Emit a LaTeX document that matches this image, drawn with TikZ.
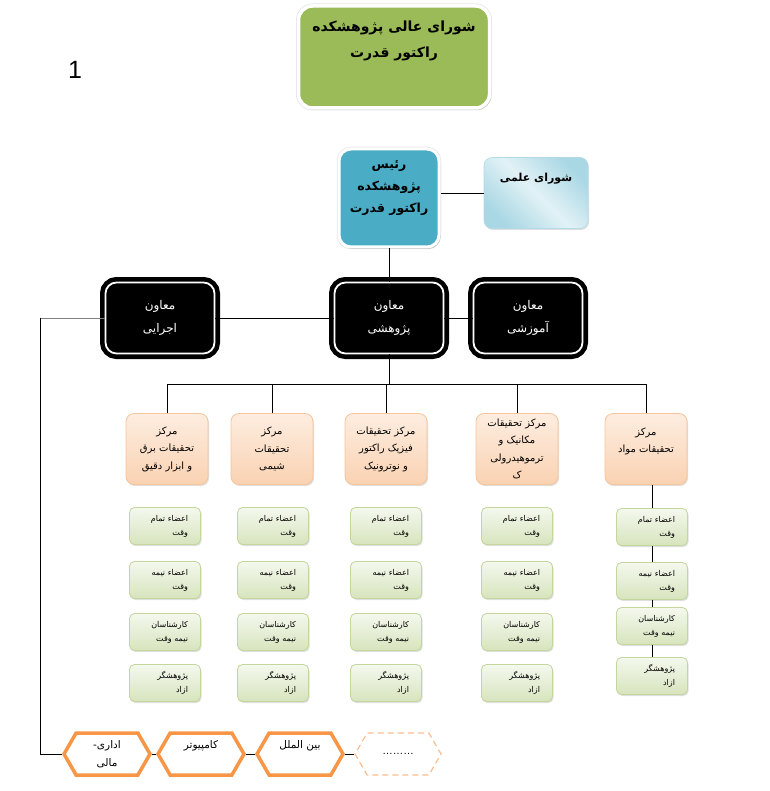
\documentclass[tikz,border=0pt]{standalone}
\usepackage{fontspec}
\newfontfamily\arabicfont[Script=Arabic]{DejaVu Sans}
\newfontfamily\latinfont{Liberation Sans}
\TeXXeTstate=1
\usepackage{xcolor}
\usepackage{tikz}
\usetikzlibrary{shapes.symbols,shadows}
\definecolor{boardgreen}{HTML}{9BBB59}
\definecolor{chiefblue}{HTML}{4BACC6}
\definecolor{councilA}{HTML}{A9D7E4}
\definecolor{councilB}{HTML}{E2F2F6}
\definecolor{councilline}{HTML}{B3DAE6}
\definecolor{ctrtop}{HTML}{FDEDE0}
\definecolor{ctrbot}{HTML}{FAD2B2}
\definecolor{ctrline}{HTML}{F8C49A}
\definecolor{membtop}{HTML}{F4F8EE}
\definecolor{membbot}{HTML}{D7E4BD}
\definecolor{membline}{HTML}{C3D69B}
\definecolor{unitorange}{HTML}{F79646}
\definecolor{unitlight}{HTML}{F9BE8F}
\newcommand\fa[1]{\beginR #1\endR}

\begin{document}
\begin{tikzpicture}[x=1pt, y=-1pt,
      board/.style={draw=white, line width=3.5pt, fill=boardgreen, rounded corners=14pt,
                  minimum width=191pt, minimum height=102pt, align=center,
                  font=\arabicfont\bfseries\fontsize{14}{26}\selectfont,
                  preaction={draw=black!10, line width=5pt},
                  drop shadow={opacity=0.35, shadow xshift=1.5pt, shadow yshift=-2pt}},
      chief/.style={draw=white, line width=3pt, fill=chiefblue, rounded corners=12pt,
                  minimum width=100pt, minimum height=98pt, align=center,
                  font=\arabicfont\bfseries\fontsize{12.5}{22}\selectfont,
                  preaction={draw=black!10, line width=4.5pt},
                  drop shadow={opacity=0.35, shadow xshift=1.5pt, shadow yshift=-2pt}},
      council/.style={draw=councilline, line width=0.6pt, rounded corners=8pt,
                  top color=councilA, bottom color=councilA, middle color=councilB,
                  shading angle=135, minimum width=104pt, minimum height=71pt, align=center,
                  font=\arabicfont\bfseries\fontsize{11}{22}\selectfont,
                  drop shadow={opacity=0.25, shadow xshift=1pt, shadow yshift=-1.5pt}},
      vp/.style={fill=black, draw=white, line width=1.8pt, rounded corners=11pt,
                  minimum width=109pt, minimum height=71pt, text=white, align=center,
                  font=\arabicfont\fontsize{12}{23}\selectfont,
                  preaction={draw=black, line width=11pt}},
      ctr/.style={draw=ctrline, line width=0.8pt, top color=ctrtop, bottom color=ctrbot,
                  rounded corners=8pt, minimum width=82pt, minimum height=71pt, align=center,
                  font=\arabicfont\fontsize{10}{17.5}\selectfont,
                  drop shadow={opacity=0.25, shadow xshift=1pt, shadow yshift=-1.5pt}},
      memb/.style={draw=membline, line width=0.8pt, top color=membtop, bottom color=membbot,
                  rounded corners=5pt, minimum width=71pt, minimum height=37pt,
                  text width=46pt, align=right,
                  font=\arabicfont\fontsize{8}{14}\selectfont,
                  drop shadow={opacity=0.25, shadow xshift=1pt, shadow yshift=-1.5pt}},
      unit/.style={signal, signal to=east and west, signal pointer angle=120,
                  draw=unitorange, line width=3.5pt, fill=white,
                  minimum width=86pt, minimum height=42pt, inner sep=1pt, align=center,
                  font=\arabicfont\fontsize{10.5}{18}\selectfont},
      unitd/.style={unit, draw=unitlight, line width=1.2pt, dash pattern=on 6pt off 4pt},
      link/.style={draw=black, line width=0.8pt}
  ]
    \useasboundingbox (0,0) rectangle (769,791);

    % top of the chart
    \node[board] (hcouncil) at (394,57) {\fa{شورای عالی پژوهشکده}\\\fa{راکتور قدرت}\\[10pt]\mbox{}};
    \node[font=\latinfont\fontsize{25}{27}\selectfont] (num) at (75,70) {1};
    \node[chief] (chief) at (389,198) {\fa{رئیس}\\\fa{پژوهشکده}\\\fa{راکتور قدرت}\\\mbox{}};
    \node[council] (sci) at (536,193) {\fa{شورای علمی}\\[10pt]\mbox{}};

    % deputies
    \node[vp] (exec) at (160,318) {\fa{معاون}\\\fa{اجرایی}};
    \node[vp] (res) at (389,318) {\fa{معاون}\\\fa{پژوهشی}};
    \node[vp] (edu) at (528,318) {\fa{معاون}\\\fa{آموزشی}};

    % research centres
    \node[ctr] (c1) at (167,449) {\fa{مرکز}\\\fa{تحقیقات برق}\\\fa{و ابزار دقیق}};
    \node[ctr] (c2) at (272,449) {\fa{مرکز}\\\fa{تحقیقات}\\\fa{شیمی}};
    \node[ctr] (c3) at (386,449) {\fa{مرکز تحقیقات}\\\fa{فیزیک راکتور}\\\fa{و نوترونیک}};
    \node[ctr] (c4) at (517,449) {\fa{مرکز تحقیقات}\\\fa{مکانیک و}\\\fa{ترموهیدرولی}\\\fa{ک}};
    \node[ctr] (c5) at (646,449) {\fa{مرکز}\\\fa{تحقیقات مواد}\\\mbox{}};

    % staff boxes
    \foreach \cx [count=\i] in {165,273,386,517}
      \foreach \ry/\la/\lb [count=\j] in {526/اعضاء تمام/وقت,580/اعضاء نیمه/وقت,632/کارشناسان/نیمه وقت,683/پژوهشگر/ازاد}
        \node[memb] (m\i\j) at (\cx,\ry) {\fa{\la}\\\fa{\lb}};
    \foreach \ry/\la/\lb [count=\j] in {527/اعضاء تمام/وقت,581/اعضاء نیمه/وقت,626/کارشناسان/نیمه وقت,676/پژوهشگر/ازاد}
      \node[memb] (m5\j) at (652,\ry) {\fa{\la}\\\fa{\lb}};

    % units
    \node[unit] (admin) at (107,754) {\fa{اداری-}\\\fa{مالی}};
    \node[unit] (comp) at (201,754) {\fa{کامپیوتر}\\\mbox{}};
    \node[unit] (intl) at (300,754) {\fa{بین الملل}\\\mbox{}};
    \node[unitd] (more) at (398,754) {\latinfont………};

    % connectors
    \draw[link] (sci.west) -- (sci.west -| chief.east);
    \draw[link] (chief.south) -- (res.north);
    \draw[link] (exec.east) -- (res.west);
    \draw[link] (res.east) -- (edu.west);
    \coordinate (bus) at (389,384);
    \draw[link] (res.south) -- (bus);
    \foreach \i in {1,...,5} \draw[link] (c\i.north) |- (bus);
    \draw[link] (m51.north) -- (m51.north |- c5.south);
    \foreach \j/\k in {2/1,3/2,4/3} \draw[link] (m5\j.north) -- (m5\j.north |- m5\k.south);
    \coordinate (corner) at (40,754);
    \draw[link, draw=black!50] (exec.west) -- (exec.west -| corner);
    \draw[link] (exec.west -| corner) -- (corner) -- (admin.west);
    \draw[link] (admin.east) -- (comp.west);
    \draw[link] (comp.east) -- (intl.west);
    \draw[link] (intl.east) -- (more.west);
  \end{tikzpicture}
\end{document}
